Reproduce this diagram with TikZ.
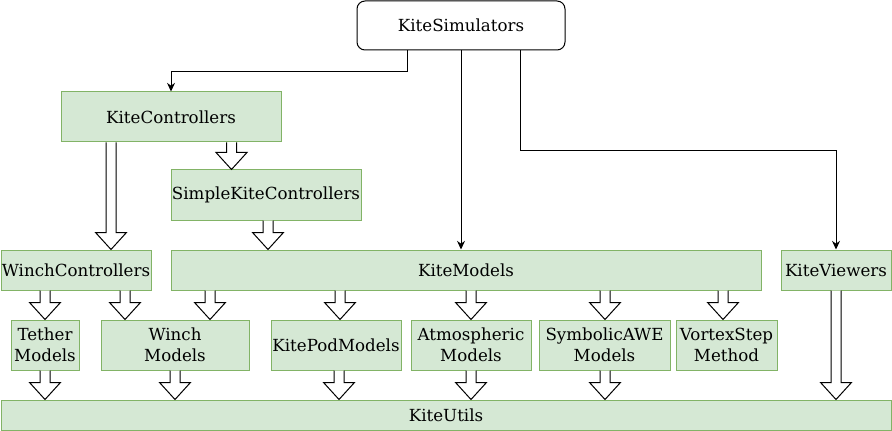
\documentclass[tikz,border=0pt]{standalone}
\usepackage{fontspec}
\setmainfont{DejaVu Serif}
\usetikzlibrary{arrows.meta,calc}
\definecolor{gfill}{HTML}{D5E8D4}
\definecolor{gdraw}{HTML}{82B366}
\tikzset{
  box/.style={draw=gdraw,fill=gfill,line width=0.75pt,inner sep=0pt,align=center,
    font=\fontsize{12.5}{15.5}\selectfont},
  simbox/.style={draw=black,fill=white,line width=0.75pt,rounded corners=6pt,inner sep=0pt,
    font=\fontsize{12.5}{15.5}\selectfont},
  conn/.style={draw=black,line width=0.75pt,-{Stealth[length=6.5pt,width=6pt]}},
  barrow/.style={draw=black,fill=white,line width=0.75pt,line join=miter},
}
\newcommand\bigarrow[3]{%
  \draw[barrow] let \p0=(#1,0), \p1=(#2.south), \p2=(#3.north) in
    (\x0-3.75pt,\y1) -- (\x0-3.75pt,\y2+12.75pt) -- (\x0-11.6pt,\y2+12.75pt) -- (\x0,\y2)
    -- (\x0+11.6pt,\y2+12.75pt) -- (\x0+3.75pt,\y2+12.75pt) -- (\x0+3.75pt,\y1);
}
\begin{document}
\begin{tikzpicture}[x=0.75pt,y=-0.75pt]
\useasboundingbox (0,0) rectangle (892,431);
\node[simbox,minimum width=208*0.75pt,minimum height=49*0.75pt] (sim) at (461,25.5) {KiteSimulators};
\node[box,minimum width=220*0.75pt,minimum height=50*0.75pt] (kc) at (171,117) {KiteControllers};
\node[box,minimum width=190*0.75pt,minimum height=50*0.75pt] (skc) at (266,195) {SimpleKiteControllers};
\node[box,minimum width=150*0.75pt,minimum height=40*0.75pt] (wc) at (76,270) {WinchControllers};
\node[box,minimum width=590*0.75pt,minimum height=40*0.75pt] (km) at (466,270) {KiteModels};
\node[box,minimum width=110*0.75pt,minimum height=40*0.75pt] (kv) at (836,270) {KiteViewers};
\node[box,minimum width=68*0.75pt,minimum height=50*0.75pt] (tm) at (45,345) {Tether\\Models};
\node[box,minimum width=148*0.75pt,minimum height=50*0.75pt] (wm) at (175,345) {Winch\\Models};
\node[box,minimum width=130*0.75pt,minimum height=50*0.75pt] (kpm) at (336,345) {KitePodModels};
\node[box,minimum width=120*0.75pt,minimum height=50*0.75pt] (am) at (471,345) {Atmospheric\\Models};
\node[box,minimum width=131*0.75pt,minimum height=50*0.75pt] (sam) at (604.5,345) {SymbolicAWE\\Models};
\node[box,minimum width=101*0.75pt,minimum height=50*0.75pt] (vsm) at (726.5,345) {VortexStep\\Method};
\node[box,minimum width=890*0.75pt,minimum height=30*0.75pt] (ku) at (446,415) {KiteUtils};
% thin connectors
\coordinate (c1) at (407,0);
\coordinate (c3) at (520,0);
\draw[conn] (sim.south -| c1) -- ++(0,21) -| (kc.north);
\draw[conn] (sim.south) -- (sim.south |- km.north);
\draw[conn] (sim.south -| c3) -- ++(0,100) -| (kv.north);
% block arrows
\bigarrow{231.5}{kc}{skc}
\bigarrow{111}{kc}{wc}
\bigarrow{268}{skc}{km}
\bigarrow{45}{wc}{tm}
\bigarrow{125}{wc}{wm}
\bigarrow{210}{km}{wm}
\bigarrow{340}{km}{kpm}
\bigarrow{471}{km}{am}
\bigarrow{605}{km}{sam}
\bigarrow{723}{km}{vsm}
\bigarrow{45}{tm}{ku}
\bigarrow{175}{wm}{ku}
\bigarrow{339}{kpm}{ku}
\bigarrow{471}{am}{ku}
\bigarrow{605}{sam}{ku}
\bigarrow{836}{kv}{ku}
\end{tikzpicture}
\end{document}
